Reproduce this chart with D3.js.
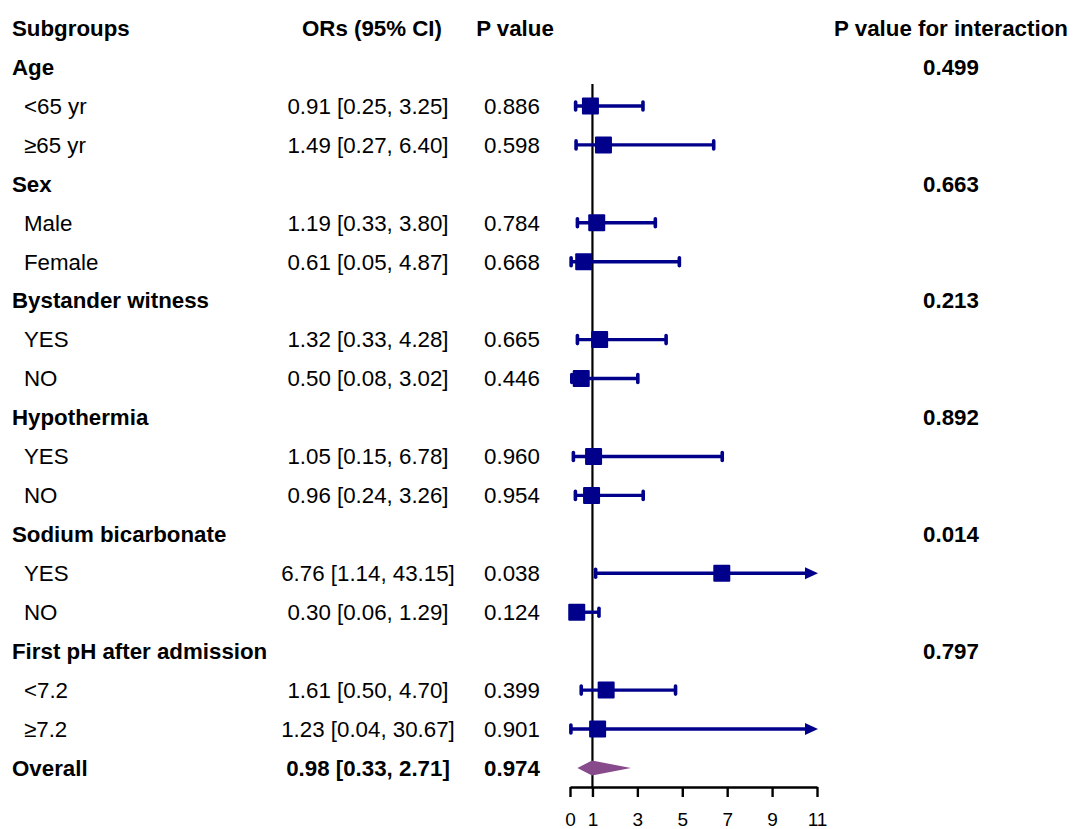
<!DOCTYPE html>
<html lang="en">
<head>
  <meta charset="UTF-8">
  <title>Subgroup forest plot</title>
  <style>
    body { margin:0; background:#fff; overflow:hidden; }
    #chart { display:block; }
    text { font-family:"Liberation Sans", Arial, sans-serif; fill:#000; }
  </style>
</head>
<body>
  <svg id="chart" width="1074" height="829"></svg>
  <script src="https://d3js.org/d3.v7.min.js"></script>
  <script>
    // rows top to bottom
    const labels = ['Age','<65 yr','≥65 yr','Sex','Male','Female','Bystander witness','YES','NO',
      'Hypothermia','YES','NO','Sodium bicarbonate','YES','NO','First pH after admission','<7.2','≥7.2','Overall'];
    const isGroup = [1,0,0,1,0,0,1,0,0,1,0,0,1,0,0,1,0,0,1];
    const ors  = [null,0.91,1.49,null,1.19,0.61,null,1.32,0.50,null,1.05,0.96,null,6.76,0.30,null,1.61,1.23,0.98];
    const lows = [null,0.25,0.27,null,0.33,0.05,null,0.33,0.08,null,0.15,0.24,null,1.14,0.06,null,0.50,0.04,0.33];
    const highs= [null,3.25,6.40,null,3.80,4.87,null,4.28,3.02,null,6.78,3.26,null,43.15,1.29,null,4.70,30.67,2.71];
    const pvals = ['','0.886','0.598','','0.784','0.668','','0.665','0.446','','0.960','0.954','','0.038','0.124','','0.399','0.901','0.974'];
    const pInter = ['0.499','','','0.663','','','0.213','','','0.892','','','0.014','','','0.797','','',''];
    const ticks = [0,1,3,5,7,9,11];

    const svg = d3.select('#chart');
    const fs = 22.3;
    const navy = '#00008b';
    const y = d3.scaleLinear().domain([0, labels.length - 1]).range([67, 768]);
    const x = d3.scaleLinear().domain([0, 11]).range([570, 817]);
    const xMax = 11;
    const overall = labels.length - 1;
    const bold = i => (isGroup[i] || i === overall) ? 'bold' : null;

    // headers
    const head = svg.append('g').attr('font-weight','bold').style('font-size', fs+'px');
    head.append('text').attr('x',12).attr('y',28).attr('dy','0.35em').text('Subgroups');
    head.append('text').attr('x',372).attr('y',28).attr('dy','0.35em').attr('text-anchor','middle').text('ORs (95% CI)');
    head.append('text').attr('x',515).attr('y',28).attr('dy','0.35em').attr('text-anchor','middle').text('P value');
    head.append('text').attr('x',951).attr('y',28).attr('dy','0.35em').attr('text-anchor','middle').text('P value for interaction');

    const rows = svg.append('g').selectAll('g').data(d3.range(labels.length)).join('g')
      .attr('transform', i => `translate(0,${y(i)})`)
      .style('font-size', fs+'px');

    rows.append('text')
      .attr('x', i => isGroup[i] && i !== overall || i === overall ? 12 : 24)
      .attr('dy','0.35em')
      .attr('font-weight', bold)
      .text(i => labels[i]);

    rows.filter(i => ors[i] != null).append('text')
      .attr('x', 368).attr('dy','0.35em').attr('text-anchor','middle')
      .attr('font-weight', bold)
      .text(i => `${ors[i].toFixed(2)} [${lows[i].toFixed(2)}, ${highs[i].toFixed(2)}]`);

    rows.append('text')
      .attr('x', 512).attr('dy','0.35em').attr('text-anchor','middle')
      .attr('font-weight', bold)
      .text(i => pvals[i]);

    rows.append('text')
      .attr('x', 951).attr('dy','0.35em').attr('text-anchor','middle')
      .attr('font-weight','bold')
      .text(i => pInter[i]);

    // reference line at 1
    svg.append('line')
      .attr('x1', x(1)).attr('x2', x(1)).attr('y1', 84).attr('y2', 787)
      .attr('stroke','#000').attr('stroke-width', 2.2);

    // CIs
    const plot = svg.append('g');
    const idx = d3.range(labels.length).filter(i => ors[i] != null && i !== overall);
    const ci = plot.selectAll('g.ci').data(idx).join('g').attr('class','ci')
      .attr('transform', i => `translate(0,${y(i)})`);
    ci.append('line')
      .attr('x1', i => x(lows[i]))
      .attr('x2', i => highs[i] > xMax ? x(xMax) - 8 : x(highs[i]))
      .attr('stroke', navy).attr('stroke-width', 3.4);
    ci.append('line')
      .attr('x1', i => x(lows[i])).attr('x2', i => x(lows[i]))
      .attr('y1', -4).attr('y2', 4)
      .attr('stroke', navy).attr('stroke-width', 3.6).attr('stroke-linecap','round');
    ci.filter(i => highs[i] <= xMax).append('line')
      .attr('x1', i => x(highs[i])).attr('x2', i => x(highs[i]))
      .attr('y1', -4).attr('y2', 4)
      .attr('stroke', navy).attr('stroke-width', 3.6).attr('stroke-linecap','round');
    ci.filter(i => highs[i] > xMax).append('path')
      .attr('d', `M${x(xMax)+1},0 L${x(xMax)-12},-6 L${x(xMax)-12},6 Z`)
      .attr('fill', navy);
    ci.append('rect')
      .attr('x', i => x(ors[i]) - 8.5).attr('y', -8.5)
      .attr('width', 17).attr('height', 17).attr('rx', 1)
      .attr('fill', navy);

    // overall diamond
    const yo = y(overall);
    plot.append('path')
      .attr('d', `M${x(lows[overall])},${yo} L${x(ors[overall])},${yo-7.5} L${x(highs[overall])},${yo} L${x(ors[overall])},${yo+7.5} Z`)
      .attr('fill', '#874a8a');

    // x axis
    const axis = svg.append('g').attr('transform','translate(0,787)')
      .call(d3.axisBottom(x).tickValues(ticks).tickSize(10).tickSizeOuter(0).tickPadding(16).tickFormat(d3.format('d')));
    axis.select('.domain').attr('stroke','#000').attr('stroke-width',2.4);
    axis.selectAll('.tick line').attr('stroke','#000').attr('stroke-width',2.4);
    axis.selectAll('.tick text').attr('font-family','"Liberation Sans", Arial, sans-serif').style('font-size','19px').attr('fill','#000');
  </script>
</body>
</html>
